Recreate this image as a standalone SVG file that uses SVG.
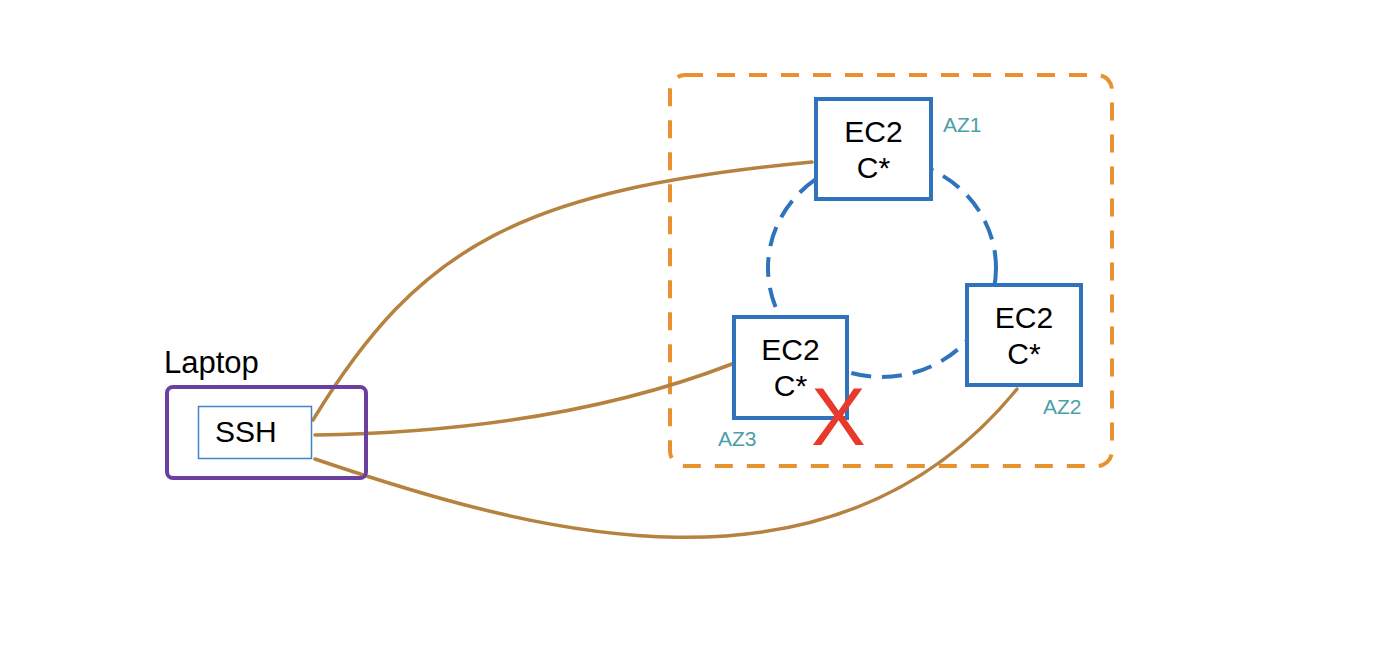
<svg xmlns="http://www.w3.org/2000/svg" width="1384" height="652" viewBox="0 0 1384 652">
<style>
.big{font-family:"Liberation Sans",Arial,sans-serif;font-size:30px;fill:#000}
.az{font-family:"Liberation Sans",Arial,sans-serif;font-size:21px;fill:#4a9fa8}
.ec2{fill:#fff;stroke:#2f73bd;stroke-width:4}
.wire{fill:none;stroke:#b5833f;stroke-width:3.5;stroke-linecap:round}
</style>
<rect width="1384" height="652" fill="#fff"/>
<g id="region">
<rect x="670" y="75" width="442" height="391" rx="15" fill="none" stroke="#e8912e" stroke-width="4" stroke-dasharray="18 14"/>
</g>
<g id="ring">
<ellipse cx="882" cy="268" rx="114" ry="109" fill="none" stroke="#2f73bd" stroke-width="4" stroke-dasharray="20 11"/>
</g>
<g id="connectors">
<path class="wire" d="M313,420 C420,245 520,190 812,162"/>
<path class="wire" d="M315,435 C450,433 600,415 732,364"/>
<path class="wire" d="M315,459 C530,532 830,618 1017,389"/>
</g>
<g id="laptop">
<rect x="167" y="387" width="199" height="91" rx="6" fill="none" stroke="#6a3fa0" stroke-width="4"/>
<text class="big" x="164" y="373" style="font-size:31px">Laptop</text>
</g>
<g id="ssh">
<rect x="198.5" y="406.5" width="113" height="52" fill="#fff" stroke="#3d85c6" stroke-width="1.5"/>
<text class="big" x="215" y="442">SSH</text>
</g>
<g id="ec2-az1">
<rect class="ec2" x="816" y="99" width="115" height="100"/>
<text class="big" x="873.5" y="142" text-anchor="middle">EC2</text>
<text class="big" x="873.5" y="178" text-anchor="middle">C*</text>
<text class="az" x="943" y="132">AZ1</text>
</g>
<g id="ec2-az2">
<rect class="ec2" x="967" y="285" width="114" height="100"/>
<text class="big" x="1024" y="328" text-anchor="middle">EC2</text>
<text class="big" x="1024" y="364" text-anchor="middle">C*</text>
<text class="az" x="1043" y="414">AZ2</text>
</g>
<g id="ec2-az3">
<rect class="ec2" x="734" y="317" width="113" height="101"/>
<text class="big" x="790.5" y="360" text-anchor="middle">EC2</text>
<text class="big" x="790.5" y="396" text-anchor="middle">C*</text>
<text class="az" x="718" y="446">AZ3</text>
</g>
<g id="failed-mark">
<text x="811" y="445" font-family="Liberation Sans,Arial,sans-serif" font-size="82" fill="#e8392b">X</text>
</g>
</svg>
